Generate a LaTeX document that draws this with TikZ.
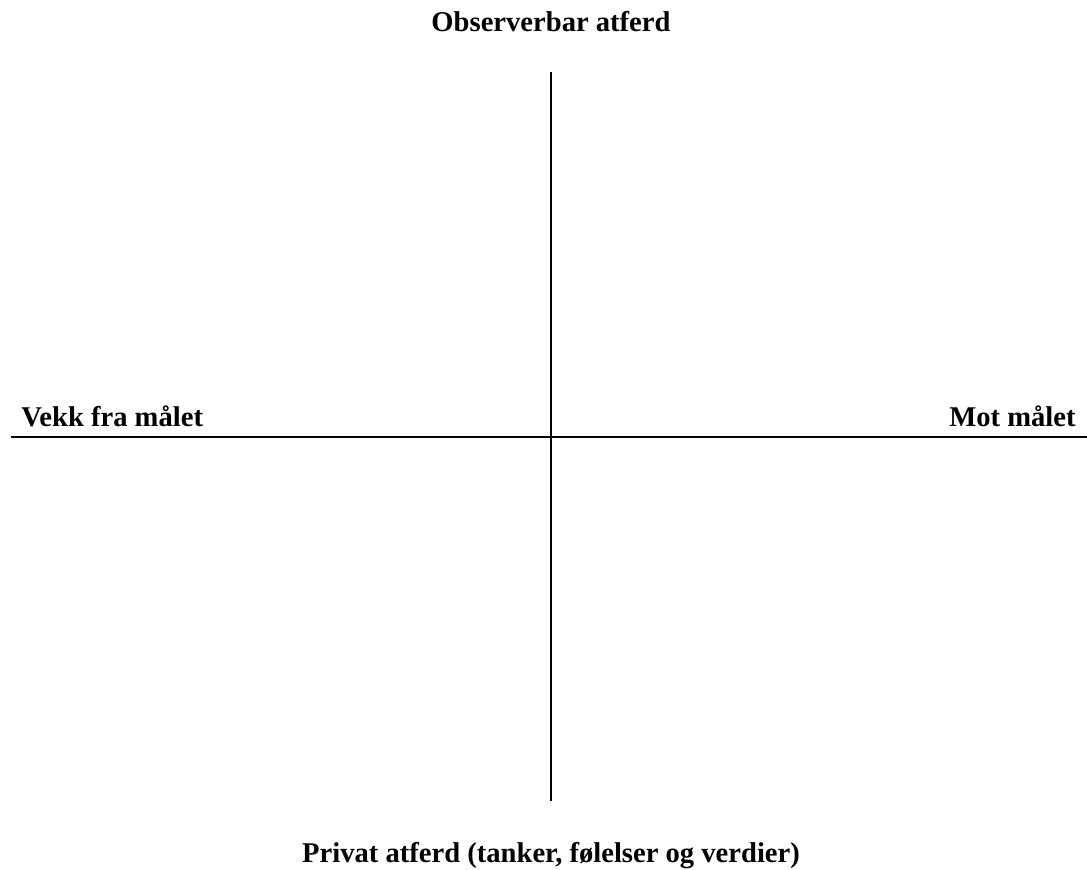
\documentclass[tikz,border=0pt]{standalone}
\usepackage{fontspec}
\setmainfont{Liberation Serif}
\tikzset{
  axislabel/.style={font=\fontsize{14.3}{17}\selectfont\bfseries, inner sep=0pt},
  axisline/.style={line width=1pt}
}
\begin{document}
\begin{tikzpicture}[x=0.5pt,y=-0.5pt]
        \useasboundingbox (0,0) rectangle (1087,870);
        \coordinate (ytop) at (551,72);
        \coordinate (ybot) at (551,801);
        \coordinate (xleft) at (11,437);
        \coordinate (xright) at (1087,437);
        \draw[axisline] (ytop) -- (ybot);
        \draw[axisline] (xleft) -- (xright);
        \node[axislabel, anchor=base] (obs) at (551,32) {Observerbar atferd};
        \node[axislabel, anchor=base west] (vekk) at (21,427) {Vekk fra målet};
        \node[axislabel, anchor=base east] (mot) at (1076,427) {Mot målet};
        \node[axislabel, anchor=base] (priv) at (551,863) {Privat atferd (tanker, følelser og verdier)};
      \end{tikzpicture}
\end{document}
